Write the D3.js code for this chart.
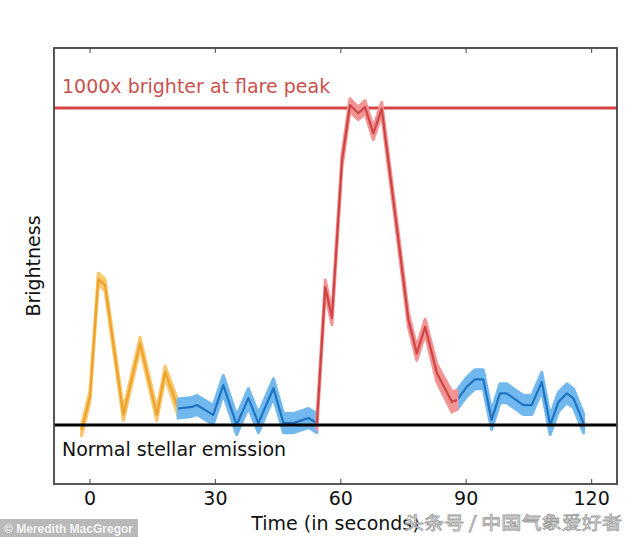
<!DOCTYPE html>
<html>
<head>
<meta charset="utf-8">
<script src="https://cdn.jsdelivr.net/npm/d3@7"></script>
<style>
  html, body { margin: 0; padding: 0; background: #fff; }
  svg { display: block; }
</style>
</head>
<body>
<svg id="chart" width="634" height="537"></svg>
<script>
// ---- data (time in seconds, brightness relative: normal = 0, flare peak = 100) ----
const xTicks = [0, 30, 60, 90, 120];
const xDomain = [-8.5, 126.2];
const yDomain = [-18.6, 118.9];
const normalLevel = 0;
const peakLevel = 100;

const orangeT = [-1.9, 0.1, 2.1, 3.7, 8.1, 12.1, 16.1, 18.1, 21.2];
const orangeV = [-1.6, 8.9, 46.1, 44.2, 3.2, 25.9, 3.2, 16.8, 5.2];
const orangeE = [1.8, 1.8, 1.8, 1.8, 1.8, 1.8, 1.8, 1.8, 2.4];

const blue1T = [21.2, 24.5, 25.7, 29.6, 32.0, 35.2, 38.0, 40.4, 44.0, 46.4, 48.8, 52.4, 54.4];
const blue1V = [5.2, 5.7, 6.3, 3.2, 12.6, 0.0, 8.5, 0.6, 11.6, 0.6, 0.6, 2.2, 0.6];
const blue1E = [3.0, 3.0, 3.0, 3.0, 3.0, 3.0, 3.0, 3.0, 3.0, 3.0, 3.0, 3.0, 3.0];

const redT = [54.4, 56.4, 58.0, 60.4, 62.3, 64.3, 65.9, 67.9, 69.9, 73.5, 76.3, 78.3, 80.3, 83.1, 86.7, 87.9];
const redV = [0.6, 43.5, 33.8, 83.3, 100.9, 98.3, 100.3, 92.0, 99.8, 62.6, 33.1, 22.6, 31.0, 16.4, 7.3, 7.9];
const redE = [2.0, 2.2, 2.2, 2.0, 2.0, 2.0, 2.0, 2.0, 2.0, 2.0, 2.2, 2.2, 2.4, 2.8, 3.2, 3.0];

const blue2T = [87.9, 90.3, 92.2, 94.2, 96.2, 98.2, 99.8, 103.8, 105.8, 108.2, 110.2, 112.2, 114.2, 115.8, 118.2];
const blue2V = [7.9, 12.1, 14.4, 14.4, 1.6, 10.0, 10.0, 6.3, 6.3, 13.6, 0.0, 7.3, 10.0, 8.4, 0.5];
const blue2E = [3.0, 3.0, 3.0, 3.0, 3.0, 3.0, 3.0, 3.0, 3.0, 3.0, 3.0, 3.0, 3.0, 3.0, 3.0];

// ---- layout ----
const svg = d3.select("#chart");
const margin = { left: 54, right: 17, top: 48, bottom: 53 };
const W = 634, H = 537;
const x = d3.scaleLinear().domain(xDomain).range([margin.left, W - margin.right]);
const y = d3.scaleLinear().domain(yDomain).range([H - margin.bottom, margin.top]);

const font = "'DejaVu Sans', sans-serif";

const series = [
  { t: orangeT, v: orangeV, e: orangeE, band: "#f8c76e", line: "#eea22c" },
  { t: blue1T, v: blue1V, e: blue1E, band: "#70b8ee", line: "#1f74c2" },
  { t: blue2T, v: blue2V, e: blue2E, band: "#70b8ee", line: "#1f74c2" },
  { t: redT, v: redV, e: redE, band: "#f39494", line: "#cf4545" }
];

const plot = svg.append("g");

// flare peak reference line
plot.append("line")
  .attr("x1", x(xDomain[0])).attr("x2", x(xDomain[1]))
  .attr("y1", y(peakLevel)).attr("y2", y(peakLevel))
  .attr("stroke", "#d64444").attr("stroke-width", 3);

series.forEach(s => {
  const pts = s.t.map((t, i) => ({ t, v: s.v[i], e: s.e[i] }));
  const area = d3.area().x(d => x(d.t)).y0(d => y(d.v - d.e)).y1(d => y(d.v + d.e));
  const line = d3.line().x(d => x(d.t)).y(d => y(d.v));
  plot.append("path").attr("d", area(pts)).attr("fill", s.band)
    .attr("stroke", s.band).attr("stroke-width", 3).attr("stroke-linejoin", "round");
  plot.append("path").attr("d", line(pts)).attr("fill", "none")
    .attr("stroke", s.line).attr("stroke-width", 2.2).attr("stroke-linejoin", "round");
});

// normal emission baseline
plot.append("line")
  .attr("x1", x(xDomain[0])).attr("x2", x(xDomain[1]))
  .attr("y1", y(normalLevel)).attr("y2", y(normalLevel))
  .attr("stroke", "#000").attr("stroke-width", 3);

// annotations
svg.append("text").attr("x", 62).attr("y", y(peakLevel) - 15)
  .attr("font-family", font).attr("font-size", 19).attr("fill", "#c9524f")
  .text("1000x brighter at flare peak");
svg.append("text").attr("x", 62).attr("y", y(normalLevel) + 31)
  .attr("font-family", font).attr("font-size", 19).attr("fill", "#111")
  .text("Normal stellar emission");

// axes
const bottomAxis = d3.axisBottom(x).tickValues(xTicks).tickSizeInner(-5).tickSizeOuter(0).tickPadding(8);
const gx = svg.append("g").attr("transform", `translate(0,${H - margin.bottom})`).call(bottomAxis);
gx.select(".domain").remove();
gx.selectAll(".tick line").attr("stroke", "#666").attr("stroke-width", 1.2);
gx.selectAll(".tick text").attr("font-family", font).attr("font-size", 19).attr("fill", "#111");

const topAxis = d3.axisTop(x).tickValues(xTicks).tickSizeInner(-5).tickSizeOuter(0).tickFormat("");
const gt = svg.append("g").attr("transform", `translate(0,${margin.top})`).call(topAxis);
gt.select(".domain").remove();
gt.selectAll(".tick line").attr("stroke", "#666").attr("stroke-width", 1.2);

// frame
svg.append("rect")
  .attr("x", margin.left).attr("y", margin.top)
  .attr("width", W - margin.left - margin.right).attr("height", H - margin.top - margin.bottom)
  .attr("fill", "none").attr("stroke", "#444").attr("stroke-width", 1.8);

// axis titles
svg.append("text").attr("x", (margin.left + W - margin.right) / 2).attr("y", 530)
  .attr("text-anchor", "middle").attr("font-family", font).attr("font-size", 19).attr("fill", "#111")
  .text("Time (in seconds)");
svg.append("text")
  .attr("transform", `translate(40,${(margin.top + H - margin.bottom) / 2}) rotate(-90)`)
  .attr("text-anchor", "middle").attr("font-family", font).attr("font-size", 19).attr("fill", "#111")
  .text("Brightness");

// credits / watermarks
svg.append("rect").attr("x", 0).attr("y", 519).attr("width", 138).attr("height", 18).attr("fill", "#b9b9b9");
svg.append("text").attr("x", 4).attr("y", 533)
  .attr("font-family", "'Liberation Sans', Arial, sans-serif").attr("font-size", 12.5).attr("font-weight", "bold")
  .attr("fill", "#f4f4f4").attr("textLength", 129).attr("lengthAdjust", "spacingAndGlyphs")
  .text("© Meredith MacGregor");
svg.append("text").attr("x", 622).attr("y", 529).attr("text-anchor", "end")
  .attr("font-family", "'Noto Sans CJK SC', sans-serif").attr("font-size", 17)
  .attr("fill", "#ffffff").attr("stroke", "#a0a0a0").attr("stroke-width", 0.8)
  .attr("textLength", 218).attr("lengthAdjust", "spacingAndGlyphs")
  .text("头条号 / 中国气象爱好者");
</script>
</body>
</html>
